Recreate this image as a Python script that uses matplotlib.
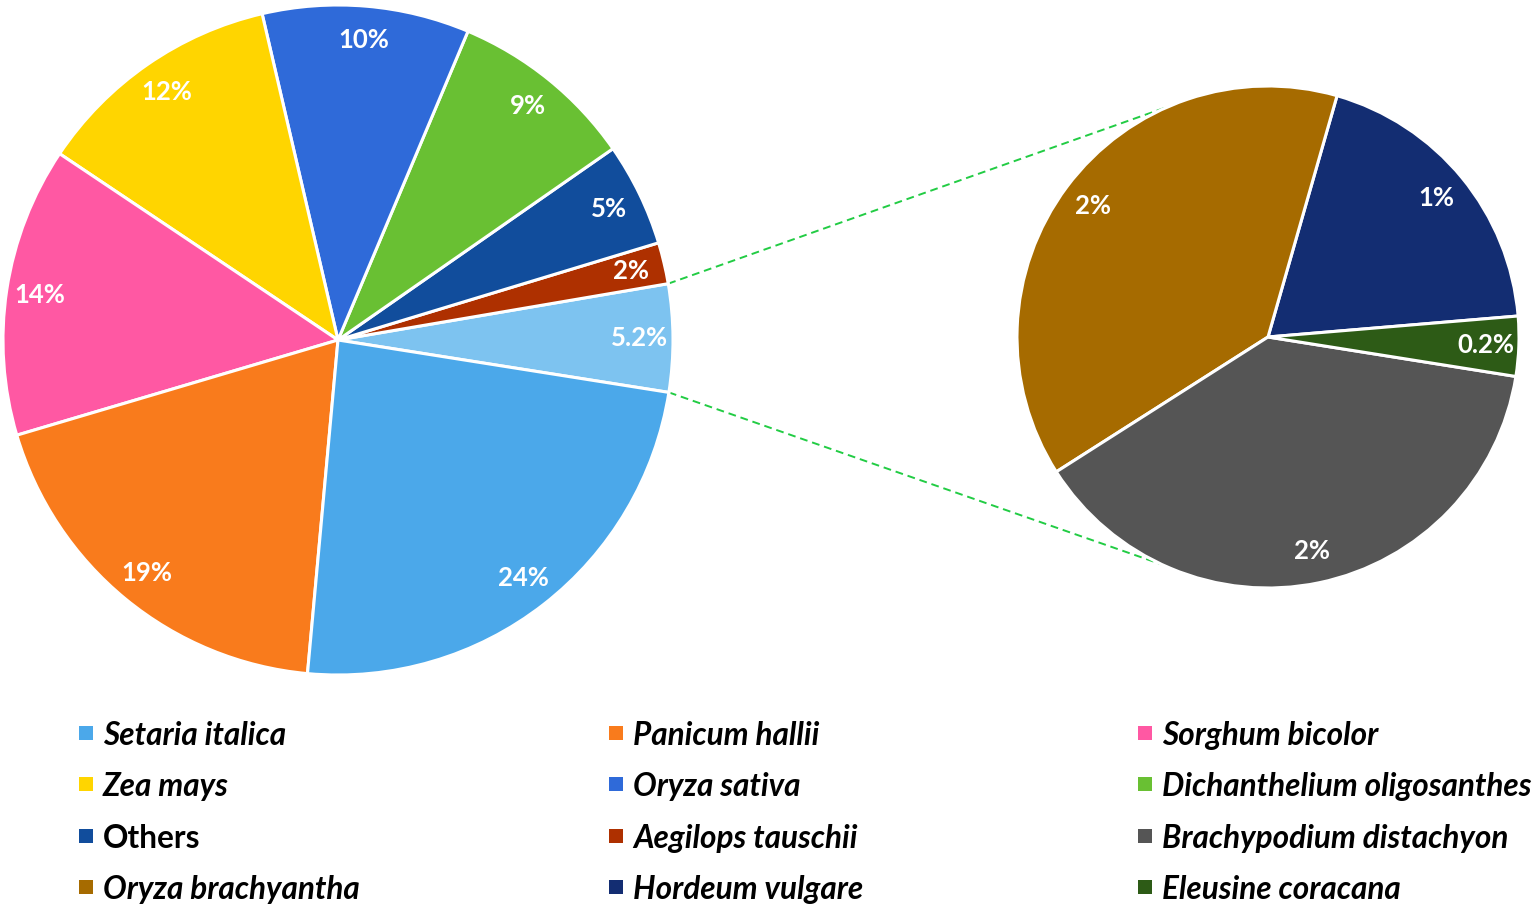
import matplotlib
matplotlib.use("Agg")
from matplotlib import pyplot as plt
from matplotlib.patches import Rectangle
import numpy as np

plt.rcParams['font.family'] = ['Lato', 'DejaVu Sans']

# main pie, counterclockwise from the right
main_names = ['Other species', 'Aegilops tauschii', 'Others', 'Dichanthelium oligosanthes',
              'Oryza sativa', 'Zea mays', 'Sorghum bicolor', 'Panicum hallii', 'Setaria italica']
main_values = [None, 2, 5, 9, 10, 12, 14, 19, 24]
main_colors = ['#7DC3F0', '#AE3000', '#114D9C', '#69C033', '#2F6AD9',
               '#FFD500', '#FF58A3', '#F97B1C', '#4BA8EA']

# split-out pie, counterclockwise
sub_names = ['Hordeum vulgare', 'Oryza brachyantha', 'Brachypodium distachyon', 'Eleusine coracana']
sub_values = [1, 2, 2, 0.2]
sub_colors = ['#132D72', '#A66B00', '#555555', '#2D5B16']

main_values[0] = round(sum(sub_values), 1)

legend_names = ['Setaria italica', 'Panicum hallii', 'Sorghum bicolor',
                'Zea mays', 'Oryza sativa', 'Dichanthelium oligosanthes',
                'Others', 'Aegilops tauschii', 'Brachypodium distachyon',
                'Oryza brachyantha', 'Hordeum vulgare', 'Eleusine coracana']

color_of = dict(zip(main_names, main_colors))
color_of.update(zip(sub_names, sub_colors))

W, H = 1535, 905
fig = plt.figure(figsize=(W / 100, H / 100), dpi=100)
ax = fig.add_axes([0, 0, 1, 1])

c1, r1 = (338, H - 340), 335
c2, r2 = (1268, H - 337), 251


def pct(v):
    return f'{v:g}%'


wp = dict(edgecolor='white', linewidth=2.2)
tp = dict(color='white', fontsize=18.5, fontweight='bold')
w1, t1 = ax.pie(main_values, colors=main_colors, startangle=-9, counterclock=True,
                center=c1, radius=r1, wedgeprops=wp, frame=True,
                labels=[pct(v) for v in main_values], labeldistance=0.9, textprops=tp)
w2, t2 = ax.pie(sub_values, colors=sub_colors, startangle=4.8, counterclock=True,
                center=c2, radius=r2, wedgeprops=wp, frame=True,
                labels=[pct(v) for v in sub_values], labeldistance=0.87, textprops=tp)
for t in list(t1) + list(t2):
    t.set_ha('center')
    t.set_va('center')

# connector lines
agg = w1[0]
for a1, a2 in [(agg.theta2, 113.3), (agg.theta1, 245)]:
    p1 = (c1[0] + r1 * np.cos(np.radians(a1)), c1[1] + r1 * np.sin(np.radians(a1)))
    p2 = (c2[0] + r2 * np.cos(np.radians(a2)), c2[1] + r2 * np.sin(np.radians(a2)))
    ax.plot([p1[0], p2[0]], [p1[1], p2[1]], color='#22CC44', lw=1.4,
            linestyle=(0, (4, 2.5)), zorder=0)

# legend, 3 columns
col_x = [79, 609, 1138]
row_y = [733, 784, 836, 887]
for i, name in enumerate(legend_names):
    x = col_x[i % 3]
    y = H - row_y[i // 3]
    ax.add_patch(Rectangle((x, y - 7), 14, 14, facecolor=color_of[name], edgecolor='none'))
    style = 'normal' if name == 'Others' else 'italic'
    ax.text(x + 24, y, name, fontsize=22.7, fontweight='bold', fontstyle=style,
            ha='left', va='center_baseline', color='black')

ax.set_xlim(0, W)
ax.set_ylim(0, H)
ax.set_aspect('equal')
ax.axis('off')

fig.savefig('out.png', dpi=100)
